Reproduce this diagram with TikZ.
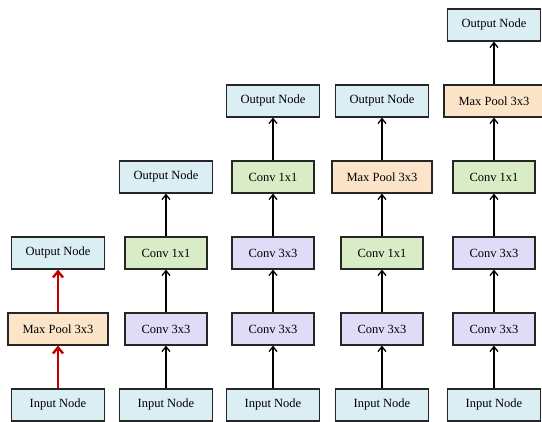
\documentclass[tikz,border=0pt]{standalone}
\usepackage{fontspec}
\setmainfont{Liberation Serif}
\usepackage{tikz}
\usetikzlibrary{arrows.meta,positioning}
\definecolor{iofill}{HTML}{DAEEF3}
\definecolor{poolfill}{HTML}{FCE4C8}
\definecolor{c11fill}{HTML}{D8EDC5}
\definecolor{c33fill}{HTML}{E0DCF7}
\definecolor{darkred}{HTML}{C00000}

\begin{document}
\begin{tikzpicture}[x=1pt, y=1pt,
    box/.style={rectangle, draw=black!85, line width=1.2pt, minimum height=32pt,
                inner sep=0pt, align=center, font=\fontsize{12.5}{14}\selectfont},
    io/.style={box, fill=iofill, minimum width=93pt},
    pool/.style={box, fill=poolfill, minimum width=100pt},
    cone/.style={box, fill=c11fill, minimum width=82pt},
    cthree/.style={box, fill=c33fill, minimum width=82pt},
    arr/.style={-{Straight Barb[length=5pt,width=8pt]}, line width=1.3pt, black},
    redarr/.style={-{Straight Barb[length=6pt,width=10pt]}, line width=2.4pt, darkred}
]
    \useasboundingbox (0,0) rectangle (542,422);
    % column 1
    \node[io] (in1) at (58,17) {Input Node};
    \node[pool] (pool1) at (58,93) {Max Pool 3x3};
    \node[io] (out1) at (58,169) {Output Node};
    \draw[redarr] (in1) -- (pool1);
    \draw[redarr] (pool1) -- (out1);
    % column 2
    \node[io] (in2) at (166,17) {Input Node};
    \node[cthree] (c33a2) at (166,93) {Conv 3x3};
    \node[cone] (c11a2) at (166,169) {Conv 1x1};
    \node[io] (out2) at (166,245) {Output Node};
    \draw[arr] (in2) -- (c33a2);
    \draw[arr] (c33a2) -- (c11a2);
    \draw[arr] (c11a2) -- (out2);
    % column 3
    \node[io] (in3) at (273,17) {Input Node};
    \node[cthree] (c33a3) at (273,93) {Conv 3x3};
    \node[cthree] (c33b3) at (273,169) {Conv 3x3};
    \node[cone] (c11a3) at (273,245) {Conv 1x1};
    \node[io] (out3) at (273,321) {Output Node};
    \draw[arr] (in3) -- (c33a3);
    \draw[arr] (c33a3) -- (c33b3);
    \draw[arr] (c33b3) -- (c11a3);
    \draw[arr] (c11a3) -- (out3);
    % column 4
    \node[io] (in4) at (382,17) {Input Node};
    \node[cthree] (c33a4) at (382,93) {Conv 3x3};
    \node[cone] (c11a4) at (382,169) {Conv 1x1};
    \node[pool] (pool4) at (382,245) {Max Pool 3x3};
    \node[io] (out4) at (382,321) {Output Node};
    \draw[arr] (in4) -- (c33a4);
    \draw[arr] (c33a4) -- (c11a4);
    \draw[arr] (c11a4) -- (pool4);
    \draw[arr] (pool4) -- (out4);
    % column 5
    \node[io] (in5) at (494,17) {Input Node};
    \node[cthree] (c33a5) at (494,93) {Conv 3x3};
    \node[cthree] (c33b5) at (494,169) {Conv 3x3};
    \node[cone] (c11a5) at (494,245) {Conv 1x1};
    \node[pool] (pool5) at (494,321) {Max Pool 3x3};
    \node[io] (out5) at (494,397) {Output Node};
    \draw[arr] (in5) -- (c33a5);
    \draw[arr] (c33a5) -- (c33b5);
    \draw[arr] (c33b5) -- (c11a5);
    \draw[arr] (c11a5) -- (pool5);
    \draw[arr] (pool5) -- (out5);
\end{tikzpicture}
\end{document}
